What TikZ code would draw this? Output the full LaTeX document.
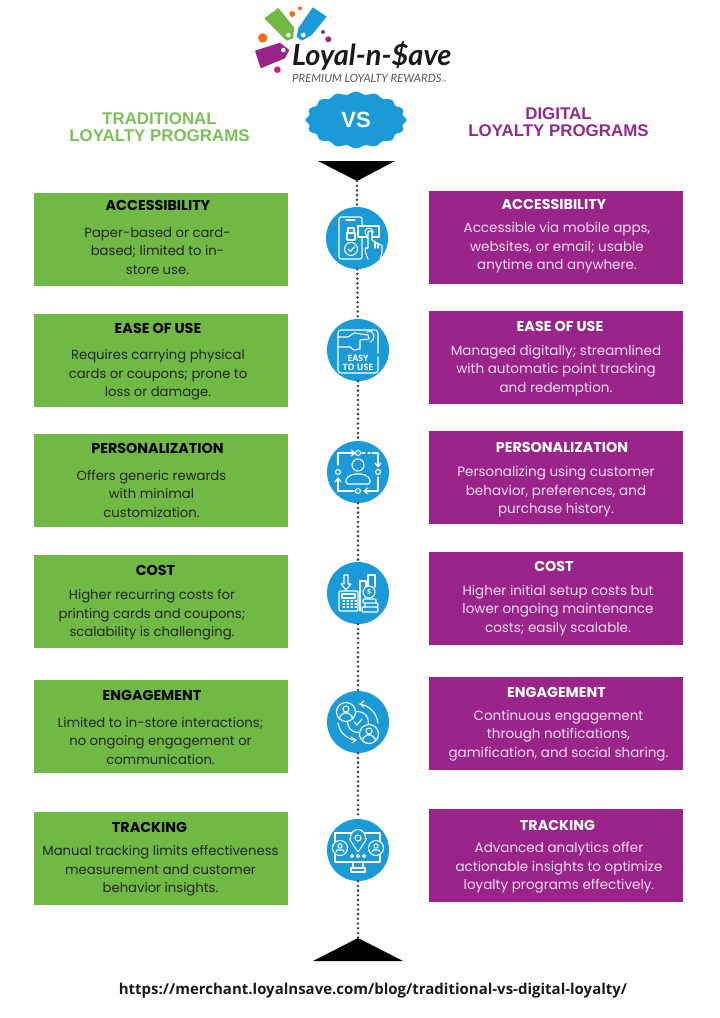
\documentclass[tikz,border=0pt]{standalone}
\usepackage{fontspec}
\setmainfont{Poppins}
\newfontfamily\headfont{Liberation Sans}
\newfontfamily\urlfont{Open Sans}
\newfontfamily\logofont{Lato}
\definecolor{tradgreen}{HTML}{6FB944}
\definecolor{headgreen}{HTML}{7CC05A}
\definecolor{digipurple}{HTML}{9A248A}
\definecolor{headpurple}{HTML}{922A8C}
\definecolor{iconblue}{HTML}{1B9AD8}
\definecolor{digitext}{HTML}{F6DDF0}
\definecolor{tagorange}{HTML}{EE6F22}
\definecolor{tagpink}{HTML}{E2187F}
\tikzset{
  tradbox/.style={fill=tradgreen,inner sep=0pt,minimum width=254pt,minimum height=93pt},
  digibox/.style={fill=digipurple,inner sep=0pt,minimum width=254pt,minimum height=93pt},
  tradhead/.style={text=black,inner sep=0pt,font=\bfseries\fontsize{14.3}{18.5}\selectfont},
  digihead/.style={text=white,inner sep=0pt,font=\bfseries\fontsize{14.3}{18.5}\selectfont},
  tradbody/.style={text=black!85,inner sep=0pt,align=center,font=\fontsize{13.2}{18.5}\selectfont},
  digibody/.style={text=digitext,inner sep=0pt,align=center,font=\fontsize{13.5}{18.5}\selectfont},
  iconcirc/.style={circle,fill=iconblue,inner sep=0pt,minimum size=62pt},
  iconline/.style={draw=white,line width=1.1pt,line join=round,line cap=round},
  dotline/.style={draw=black!75,line width=2.8pt,line cap=round,dash pattern=on 0pt off 4.7pt},
  headtext/.style={align=center,inner sep=0pt,font=\headfont\bfseries\fontsize{16.9}{17}\selectfont}
}
\begin{document}
\begin{tikzpicture}[x=1pt,y=-1pt]
  \useasboundingbox (0,0) rectangle (720,1018);
  % logo
  \fill[tradgreen] (264.3,18.3) -- (278.3,8) -- (294,27.3) -- (293.3,38.3) -- (286.7,40.7) -- cycle;
  \fill[iconblue] (312.7,7.3) -- (326.7,16.7) -- (311.7,35) -- (301.7,40.7) -- (296.7,36.7) -- (298.3,28.3) -- cycle;
  \fill[digipurple] (255,50.7) -- (280,42.7) -- (289.3,50) -- (285,58.3) -- (260.7,68.3) -- cycle;
  \fill[white] (288.3,35) circle (2.3) (303.3,35) circle (2.3) (283.3,50) circle (2.3);
  \fill[tagorange] (262.7,38) circle (4.7) (292.3,14) circle (3) (300,8.3) circle (2);
  \fill[digipurple] (323,32) circle (2) (328.3,39.3) circle (3);
  \fill[tagpink] (277.3,69.7) circle (3.3);
  \node[anchor=base west,inner sep=0pt,font=\logofont\bfseries\itshape\fontsize{29}{29}\selectfont,text=black!90] (logoname) at (292,65) {Loyal-n-\$ave};
  \node[anchor=base west,inner sep=0pt,font=\logofont\itshape\fontsize{11.4}{12}\selectfont,text=black!65] (logotag) at (292,82) {PREMIUM LOYALTY REWARDS\fontsize{3}{3}\selectfont\,TM};
  % column heads
  \node[headtext,text=headgreen] (headT) at (159.5,127.5) {TRADITIONAL\\LOYALTY PROGRAMS};
  \node[headtext,text=headpurple] (headD) at (558.5,122.5) {DIGITAL\\LOYALTY PROGRAMS};
  \fill[iconblue] plot[domain=0:360,samples=193,smooth] ({356+49*(1+0.03*cos(16*\x))*cos(\x)},{120+27*(1+0.05*cos(16*\x))*sin(\x)}) -- cycle;
  \node[text=white,inner sep=0pt,font=\headfont\bfseries\fontsize{22}{22}\selectfont] (vs) at (356,120) {VS};
  % triangles
  \coordinate (topTip) at (357,181);
  \coordinate (botTip) at (358,938);
  \fill[black] (318,161) -- (395,161) -- (topTip) -- cycle;
  \fill[black] (313,961) -- (403,961) -- (botTip) -- cycle;
  % traditional column
  \node[tradbox] (tradA) at (161,239.5) {};
  \node[tradhead] (tradAhead) at (158,205) {ACCESSIBILITY};
  \node[tradbody] (tradAbody) at (157.5,251) {Paper-based or card-\\based; limited to in-\\store use.};
  \node[tradbox] (tradB) at (161,360.5) {};
  \node[tradhead] (tradBhead) at (158,328) {EASE OF USE};
  \node[tradbody] (tradBbody) at (158,375) {Requires carrying physical\\cards or coupons; prone to\\loss or damage.};
  \node[tradbox] (tradC) at (161,480.5) {};
  \node[tradhead] (tradChead) at (157.5,448) {PERSONALIZATION};
  \node[tradbody] (tradCbody) at (151.5,494) {Offers generic rewards\\with minimal\\customization.};
  \node[tradbox] (tradD) at (161,601) {};
  \node[tradhead] (tradDhead) at (155.5,570) {COST};
  \node[tradbody] (tradDbody) at (152,615) {Higher recurring costs for\\printing cards and coupons;\\scalability is challenging.};
  \node[tradbox] (tradE) at (161,726.5) {};
  \node[tradhead] (tradEhead) at (152,695) {ENGAGEMENT};
  \node[tradbody] (tradEbody) at (160.5,741) {Limited to in-store interactions;\\no ongoing engagement or\\communication.};
  \node[tradbox] (tradF) at (161,858.5) {};
  \node[tradhead] (tradFhead) at (149.5,827) {TRACKING};
  \node[tradbody] (tradFbody) at (160.5,871) {Manual tracking limits effectiveness\\measurement and customer\\behavior insights.};
  % digital column
  \node[digibox] (digiA) at (556,237.5) {};
  \node[digihead] (digiAhead) at (554,204) {ACCESSIBILITY};
  \node[digibody] (digiAbody) at (557,248) {Accessible via mobile apps,\\websites, or email; usable\\anytime and anywhere.};
  \node[digibox] (digiB) at (556,357.5) {};
  \node[digihead] (digiBhead) at (560,326) {EASE OF USE};
  \node[digibody] (digiBbody) at (556,370.5) {Managed digitally; streamlined\\with automatic point tracking\\and redemption.};
  \node[digibox] (digiC) at (556,477.5) {};
  \node[digihead] (digiChead) at (562,447) {PERSONALIZATION};
  \node[digibody] (digiCbody) at (556,492) {Personalizing using customer\\behavior, preferences, and\\purchase history.};
  \node[digibox] (digiD) at (556,598) {};
  \node[digihead] (digiDhead) at (554,566) {COST};
  \node[digibody] (digiDbody) at (558,610.5) {Higher initial setup costs but\\lower ongoing maintenance\\costs; easily scalable.};
  \node[digibox] (digiE) at (556,723.5) {};
  \node[digihead] (digiEhead) at (556.5,692) {ENGAGEMENT};
  \node[digibody] (digiEbody) at (558.5,735.5) {Continuous engagement\\through notifications,\\gamification, and social sharing.};
  \node[digibox] (digiF) at (556,855.5) {};
  \node[digihead] (digiFhead) at (557.5,825) {TRACKING};
  \node[digibody] (digiFbody) at (559,868) {Advanced analytics offer\\actionable insights to optimize\\loyalty programs effectively.};
  % icon discs
  \node[iconcirc] (iconA) at (357,238) {};
  \node[iconcirc] (iconB) at (358,350) {};
  \node[iconcirc] (iconC) at (358,472) {};
  \node[iconcirc] (iconD) at (358,593) {};
  \node[iconcirc] (iconE) at (358,722) {};
  \node[iconcirc] (iconF) at (358,850) {};
  \draw[dotline] (topTip) -- (iconA);
  \draw[dotline] (iconA) -- (iconB);
  \draw[dotline] (iconB) -- (iconC);
  \draw[dotline] (iconC) -- (iconD);
  \draw[dotline] (iconD) -- (iconE);
  \draw[dotline] (iconE) -- (iconF);
  \draw[dotline] (iconF) -- (botTip);
  % icon A: phone and card
  \begin{scope}[shift={(iconA)},iconline]
    \draw[rounded corners=2] (-18,-21) rectangle (5,21);
    \draw (-11,-18) -- (-2,-18);
    \draw (-9,-10) rectangle (-3,-5) (-10,-5) rectangle (-2,2);
    \draw (-6,11) circle (6.5);
    \draw (-9,11) -- (-6.5,13.5) -- (-2.5,8.5);
    \draw[fill=iconblue] (1,-12) rectangle (22,-1);
    \draw (12,-6) circle (4);
    \draw[fill=iconblue,rounded corners=1] (11,21) -- (8,13) -- (9,9) -- (11,11) -- (11,-7) -- (15,-7) -- (15,3) -- (18,3) -- (18,5) -- (21,5) -- (21,6) -- (25,7) -- (25,15) -- (23,21);
    \draw (18,4) -- (18,10) (21,6) -- (21,10);
  \end{scope}
  % icon B: pointing hand
  \begin{scope}[shift={(iconB)},iconline]
    \draw[rounded corners=3] (20,3) -- (20,-20) -- (-20,-20) -- (-20,23) -- (20,23) -- (20,7);
    \draw (-20,-13) -- (-10,-13) -- (-4,-17) -- (10,-15) -- (11,-11) -- (2,-10) -- (2,-1) -- (-4,0) -- (-8,-3) -- (-20,-3);
    \draw (9,-18) -- (13,-19) -- (16,-15) -- (15,-10) -- (12,-8);
    \node[text=white,inner sep=0pt,align=center,font=\urlfont\bfseries\fontsize{8.8}{9.2}\selectfont] (easyuse) at (0,12.5) {EASY\\TO USE};
  \end{scope}
  % icon C: person in a loop
  \begin{scope}[shift={(iconC)},iconline]
    \draw (0,-7) circle (6);
    \draw[rounded corners=2] (-12,12) -- (-12,6) -- (-5,2) -- (5,2) -- (12,6) -- (12,12) -- cycle;
    \draw (-20,-7) -- (-20,-19) -- (-4,-19);
    \draw (-7,-22) -- (-3,-19) -- (-7,-16);
    \draw (0,-19) circle (2.5);
    \draw[dashed] (4,-19) -- (12,-19);
    \draw (20,-19) -- (14,-19) (20,-19) -- (20,-6);
    \draw (17,-9) -- (20,-5) -- (23,-9);
    \draw (20,0) circle (2.5) (-20,0) circle (2.5);
    \draw (20,5) -- (20,19) -- (7,19);
    \draw (10,16) -- (6,19) -- (10,22);
    \draw (0,19) circle (2.5);
    \draw (-4,19) -- (-20,19) -- (-20,6);
    \draw (-23,10) -- (-20,6) -- (-17,10);
  \end{scope}
  % icon D: calculator and coins
  \begin{scope}[shift={(iconD)},iconline]
    \draw (-14,-18) -- (-14,-9) -- (-17,-9) -- (-12,-3) -- (-7,-9) -- (-10,-9) -- (-10,-18) -- cycle;
    \draw[rounded corners=1] (-19,-2) rectangle (0,18);
    \draw (-16,1) rectangle (-3,5);
    \foreach \kx in {-15,-11,-7,-3} \foreach \ky in {8,11,14} \draw (\kx,\ky) -- ++(1.5,0);
    \draw (2,18) -- (2,-12) -- (8,-12) -- (8,4);
    \draw (10,-6) -- (10,-18) -- (17,-18) -- (17,-6);
    \draw[fill=iconblue] (11,-1) circle (6);
    \node[text=white,inner sep=0pt,font=\urlfont\bfseries\fontsize{7}{7}\selectfont] (coinmark) at (11,-1) {\$};
    \draw[rounded corners=1] (5,6) rectangle (18,10) (7,10) rectangle (20,14) (4,14) rectangle (20,19);
  \end{scope}
  % icon E: users and arrows
  \begin{scope}[shift={(iconE)},iconline]
    \draw (0,0) circle (10.5);
    \draw (-3.5,0) -- (-1,3) -- (4,-3);
    \draw[fill=iconblue] (-12,-10) circle (9.5) (11,12) circle (9.5);
    \draw (-12,-13) circle (3) (11,9) circle (3);
    \draw (-18,-4) -- (-18,-6) -- (-14,-9) -- (-10,-9) -- (-6,-6) -- (-6,-4);
    \draw (5,18) -- (5,16) -- (9,13) -- (13,13) -- (17,16) -- (17,18);
    \draw (20,1) to[bend right=35] (2,-18);
    \draw (6,-21) -- (2,-18) -- (6,-15);
    \draw (-20,1) to[bend right=35] (-3,18);
    \draw (-7,15) -- (-2,18) -- (-6,21);
  \end{scope}
  % icon F: monitor, pin and users
  \begin{scope}[shift={(iconF)},iconline]
    \draw (-23,-17) -- (22,-17) -- (22,12) -- (-23,12) -- cycle;
    \draw (-5,12) -- (-5,18) (5,12) -- (5,18);
    \draw (-7,22) -- (-7,18) -- (7,18) -- (7,22) -- cycle;
    \draw[fill=iconblue] (-8,-10) .. controls (-8,-24) and (8,-24) .. (8,-10) -- (0,2) -- cycle;
    \draw (0,-12) circle (3);
    \draw[fill=iconblue] (-18,-2) circle (7.5) (18,-2) circle (7.5);
    \draw (-18,-4) circle (2.2) (18,-4) circle (2.2);
    \draw (-22,2) -- (-21,0) -- (-15,0) -- (-14,2);
    \draw (14,2) -- (15,0) -- (21,0) -- (22,2);
    \draw (-6,6) circle (1.7) (0,6) circle (1.7) (6,6) circle (1.7);
  \end{scope}
  % footer
  \node[inner sep=0pt,text=black!90,font=\urlfont\bfseries\fontsize{15}{16}\selectfont] (bloglink) at (373,991) {https://merchant.loyalnsave.com/blog/traditional-vs-digital-loyalty/};
\end{tikzpicture}
\end{document}
